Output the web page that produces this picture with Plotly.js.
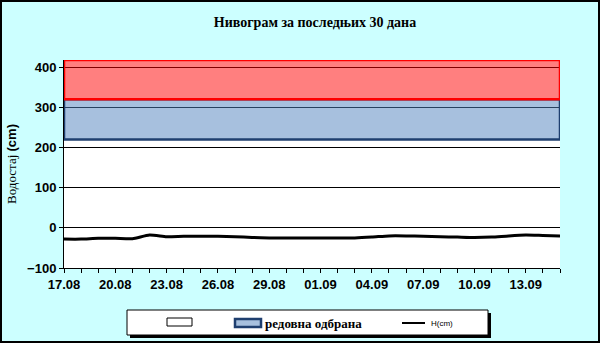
<!DOCTYPE html>
<html>
<head>
<meta charset="utf-8">
<script src="https://cdn.plot.ly/plotly-3.0.1.min.js"></script>
<style>
html, body { margin: 0; padding: 0; background: #CCFFFF; }
#chart { width: 596px; height: 339px; border: 2px solid #000; background: #CCFFFF; }
</style>
</head>
<body>
<div id="chart"></div>
<script>
// Dates (30 days, 17.08 – 15.09)
const dates = [
  '2023-08-17','2023-08-18','2023-08-19','2023-08-20','2023-08-21','2023-08-22',
  '2023-08-23','2023-08-24','2023-08-25','2023-08-26','2023-08-27','2023-08-28',
  '2023-08-29','2023-08-30','2023-08-31','2023-09-01','2023-09-02','2023-09-03',
  '2023-09-04','2023-09-05','2023-09-06','2023-09-07','2023-09-08','2023-09-09',
  '2023-09-10','2023-09-11','2023-09-12','2023-09-13','2023-09-14','2023-09-15'
];
// Water level H(cm)
const levels = [
  -28, -28, -26, -26, -27, -18, -22, -21, -21, -21,
  -22, -24, -25, -25, -25, -25, -25, -25, -23, -20,
  -20, -21, -22, -23, -24, -23, -20, -18, -19, -20
];
// Defence thresholds (cm)
const bandBottom = [220];        // lower edge of regular defence
const regularTop = [320];        // regular defence upper / extraordinary lower
const extraordinaryTop = [418];  // extraordinary defence upper edge
const yRange = [-100, 418];
// Legend labels
const legendLabels = ['', 'редовна одбрана', 'H(cm)'];

const first = dates[0], last = dates[dates.length - 1];
const bandX = [first, last, last, first, first];

const traces = [
  {
    name: legendLabels[1],
    x: bandX,
    y: [bandBottom[0], bandBottom[0], regularTop[0], regularTop[0], bandBottom[0]],
    type: 'scatter', mode: 'lines',
    fill: 'toself', fillcolor: 'rgba(79,129,189,0.5)',
    line: { color: '#1F3F6F', width: 2.5 },
    hoverinfo: 'skip'
  },
  {
    name: 'ванредна одбрана',
    x: bandX,
    y: [regularTop[0], regularTop[0], extraordinaryTop[0], extraordinaryTop[0], regularTop[0]],
    type: 'scatter', mode: 'lines',
    fill: 'toself', fillcolor: 'rgba(255,0,0,0.5)',
    line: { color: '#FF0000', width: 2.5 },
    hoverinfo: 'skip'
  },
  {
    name: legendLabels[2],
    x: dates,
    y: levels,
    type: 'scatter', mode: 'lines',
    line: { color: '#000', width: 3, shape: 'spline', smoothing: 0.6 }
  }
];

const W = 596, H = 339;
const pw = 496, ph = 208, ml = 62, mt = 58;
// page pixel -> paper fraction (legend decoration only)
function px(v) { return (v - 2 - ml) / pw; }
function py(v) { return 1 - (v - 2 - mt) / ph; }
function cx(v) { return (v - 2) / W; }
function cy(v) { return 1 - (v - 2) / H; }

const NB = '\u00a0';

const layout = {
  width: W, height: H,
  margin: { l: 62, r: 38, t: 58, b: 73 },
  paper_bgcolor: '#CCFFFF',
  plot_bgcolor: '#FFFFFF',
  showlegend: false,
  title: {
    text: 'Нивограм за последњих 30 дана',
    font: { family: 'Liberation Serif', size: 14, color: '#000', weight: 'bold' },
    x: cx(315), xanchor: 'center', y: cy(22), yanchor: 'middle'
  },
  xaxis: {
    type: 'date',
    range: [first, last],
    tick0: first, dtick: 3 * 86400000,
    tickformat: '%d.%m',
    ticks: 'outside', ticklen: 4, tickcolor: '#000',
    minor: { dtick: 86400000, ticks: 'outside', ticklen: 4, tickcolor: '#000', showgrid: false },
    showgrid: false,
    showline: true, linecolor: '#000', linewidth: 1,
    tickfont: { family: 'Liberation Sans', size: 13, color: '#000', weight: 'bold' },
    fixedrange: true
  },
  yaxis: {
    range: yRange,
    tickvals: [-100, 0, 100, 200, 300, 400],
    ticks: 'outside', ticklen: 4, tickcolor: '#000',
    showgrid: true, gridcolor: '#000', gridwidth: 1,
    zeroline: true, zerolinecolor: '#000', zerolinewidth: 1,
    showline: true, linecolor: '#000', linewidth: 1,
    tickfont: { family: 'Liberation Sans', size: 13, color: '#000', weight: 'bold' },
    title: {
      text: NB.repeat(6) + '<span style="font-family:Liberation Serif;font-weight:normal">Водостај </span><b>(cm)</b>',
      font: { family: 'Liberation Sans', size: 13, color: '#000' },
      standoff: 7
    },
    fixedrange: true
  },
  shapes: [
    // legend shadow + box
    { type: 'rect', xref: 'paper', yref: 'paper', layer: 'above',
      x0: px(130), x1: px(491), y0: py(338), y1: py(313),
      fillcolor: '#000', line: { width: 0 } },
    { type: 'rect', xref: 'paper', yref: 'paper', layer: 'above',
      x0: px(127), x1: px(488), y0: py(335), y1: py(310),
      fillcolor: '#FFFFFF', line: { color: '#000', width: 1 } },
    // white band key
    { type: 'rect', xref: 'paper', yref: 'paper', layer: 'above',
      x0: px(167), x1: px(192), y0: py(326), y1: py(318),
      fillcolor: '#FFFFFF', line: { color: '#000', width: 1 } },
    // regular defence key
    { type: 'rect', xref: 'paper', yref: 'paper', layer: 'above',
      x0: px(235), x1: px(261), y0: py(327), y1: py(319),
      fillcolor: 'rgba(79,129,189,0.5)', line: { color: '#1F3F6F', width: 2.5 } },
    // H(cm) key
    { type: 'line', xref: 'paper', yref: 'paper', layer: 'above',
      x0: px(402), x1: px(425), y0: py(323), y1: py(323),
      line: { color: '#000', width: 2 } }
  ],
  annotations: [
    { xref: 'paper', yref: 'paper', x: px(263), y: py(323), xanchor: 'left', yanchor: 'middle',
      text: legendLabels[1], showarrow: false,
      font: { family: 'Liberation Serif', size: 13, color: '#000', weight: 'bold' } },
    { xref: 'paper', yref: 'paper', x: px(429), y: py(323), xanchor: 'left', yanchor: 'middle',
      text: legendLabels[2], showarrow: false,
      font: { family: 'Liberation Sans', size: 8, color: '#000' } }
  ]
};

Plotly.newPlot('chart', traces, layout, { displayModeBar: false, staticPlot: true });
</script>
</body>
</html>
